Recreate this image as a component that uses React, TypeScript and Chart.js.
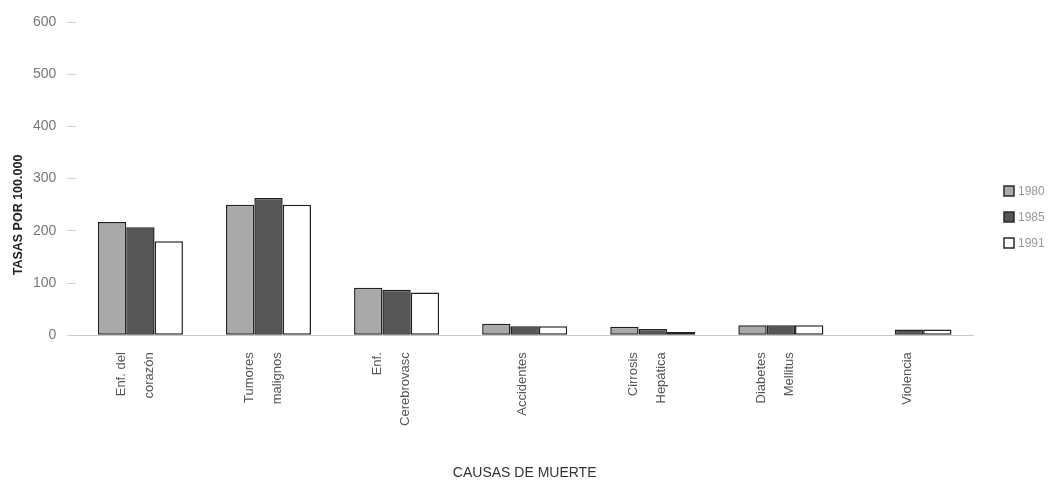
import React, { useEffect, useRef } from 'react';
import { Chart, registerables } from 'chart.js';
Chart.register(...registerables);

const categories: string[][] = [
  ['Enf. del', 'corazón'],
  ['Tumores', 'malignos'],
  ['Enf.', 'Cerebrovasc'],
  ['Accidentes'],
  ['Cirrosis', 'Hepática'],
  ['Diabetes', 'Mellitus'],
  ['Violencia'],
];
const years = ['1980', '1985', '1991'];
const values1980 = [217, 250, 91, 22, 16, 19, null];
const values1985 = [207, 263, 87, 17, 12, 19, 11];
const values1991 = [180, 250, 82, 17, 6, 19, 11];
const yMin = 0;
const yMax = 600;
const yStep = 100;
const yTitle = 'TASAS POR 100.000';
const xTitle = 'CAUSAS DE MUERTE';

const fills = ['#a9a9a9', '#565656', '#ffffff'];
const FONT = '"Liberation Sans", Arial, sans-serif';

const decorPlugin = {
  id: 'decor',
  afterDraw(chart: any) {
    const ctx = chart.ctx;
    ctx.save();
    // legend
    const lx = 1004;
    const ys = [191, 217, 243];
    chart.data.datasets.forEach((ds: any, i: number) => {
      const y = ys[i];
      ctx.fillStyle = ds.backgroundColor;
      ctx.strokeStyle = '#2a2a2a';
      ctx.lineWidth = 1.5;
      ctx.fillRect(lx, y - 5, 10, 10);
      ctx.strokeRect(lx, y - 5, 10, 10);
      ctx.fillStyle = '#999';
      ctx.font = `12px ${FONT}`;
      ctx.textBaseline = 'middle';
      ctx.textAlign = 'left';
      ctx.fillText(ds.label, lx + 14, y + 1);
    });
    // x category labels (rotated, multi-line)
    const xs = chart.scales.x;
    const top = chart.chartArea.bottom + 17;
    ctx.fillStyle = '#555';
    ctx.font = `13px ${FONT}`;
    ctx.textAlign = 'right';
    ctx.textBaseline = 'middle';
    (chart.data.labels as string[][]).forEach((lines, i) => {
      const c = xs.getPixelForTick(i);
      const offs = lines.length === 2 ? [-19, 9] : [-2];
      lines.forEach((line, j) => {
        ctx.save();
        ctx.translate(c + offs[j], top);
        ctx.rotate(-Math.PI / 2);
        ctx.fillText(line, 0, 0);
        ctx.restore();
      });
    });
    // y title
    ctx.save();
    ctx.translate(19, 215);
    ctx.rotate(-Math.PI / 2);
    ctx.fillStyle = '#222';
    ctx.font = `bold 12.5px ${FONT}`;
    ctx.textAlign = 'center';
    ctx.textBaseline = 'middle';
    ctx.fillText(yTitle, 0, 0);
    ctx.restore();
    ctx.restore();
  },
};

export default function App() {
  const ref = useRef<HTMLCanvasElement>(null);
  useEffect(() => {
    if (!ref.current) return;
    const chart = new Chart(ref.current, {
      type: 'bar',
      data: {
        labels: categories,
        datasets: [values1980, values1985, values1991].map((v, i) => ({
          label: years[i],
          data: v,
          backgroundColor: fills[i],
          borderColor: '#222',
          borderWidth: 1.5,
          borderSkipped: false,
          categoryPercentage: 0.664,
          barPercentage: 1,
        })),
      },
      options: {
        animation: false,
        responsive: false,
        layout: { padding: { top: 22, right: 83, left: 22, bottom: 0 } },
        plugins: {
          legend: { display: false },
          tooltip: { enabled: false },
        },
        scales: {
          x: {
            grid: { display: false },
            border: { display: true, color: '#c8c8c8', width: 1 },
            ticks: { display: false },
            title: {
              display: true,
              text: xTitle,
              color: '#333',
              font: { family: FONT, size: 14 },
              padding: { top: 122, bottom: 0 },
            },
          },
          y: {
            min: yMin,
            max: yMax,
            ticks: {
              stepSize: yStep,
              color: '#777',
              padding: 11,
              font: { family: FONT, size: 14 },
            },
            grid: {
              drawOnChartArea: false,
              drawTicks: true,
              tickLength: 9,
              color: '#cfcfcf',
            },
            border: { display: false },
          },
        },
      },
      plugins: [decorPlugin],
    } as any);
    return () => chart.destroy();
  }, []);
  return (
    <div style={{ position: 'absolute', left: 0, top: 0, width: 1056, height: 482, background: '#fff' }}>
      <canvas ref={ref} width={1056} height={482} />
    </div>
  );
}
